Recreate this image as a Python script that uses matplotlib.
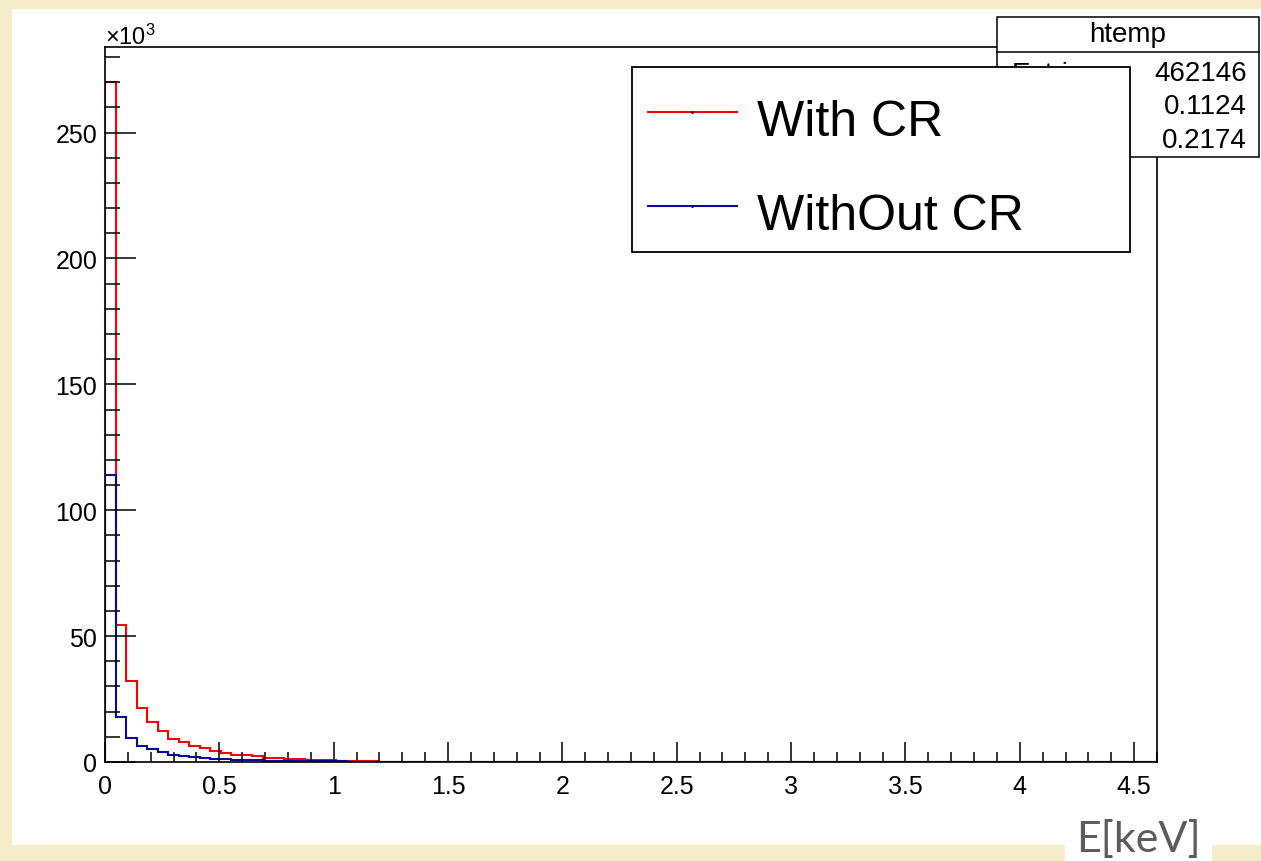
import numpy as np
import matplotlib
matplotlib.use('Agg')
import matplotlib.pyplot as plt
from matplotlib.patches import Rectangle
from matplotlib.lines import Line2D
from matplotlib.ticker import MultipleLocator, FormatStrFormatter

plt.rcParams['font.family'] = ['Liberation Sans', 'DejaVu Sans']
plt.rcParams['mathtext.fontset'] = 'custom'
plt.rcParams['mathtext.rm'] = 'Liberation Sans'
plt.rcParams['mathtext.it'] = 'Liberation Sans'

# histogram: 100 bins from 0 to 4.6 keV, counts in units of 10^3
n_bins = 100
e_max = 4.6
with_cr = [270, 54.5, 32, 21.5, 15.8, 12.2, 9.3, 7.8, 6.5, 5.5,
           4.2, 3.6, 2.9, 2.6, 2.4, 1.7, 1.5, 1.3, 1.1, 0.9,
           0.8, 0.6, 0.55, 0.5, 0.45, 0.4]
without_cr = [114, 17.8, 9.7, 6.5, 5.2, 3.8, 2.9, 2.5, 1.9, 1.6,
              1.3, 1.1, 0.9, 0.7, 0.6, 0.5, 0.45, 0.4, 0.35, 0.3,
              0.25, 0.2, 0.2, 0.15, 0.15, 0.1]
series_labels = ['With CR', 'WithOut CR']
stats_title = 'htemp'
stats_names = ['Entries', 'Mean', 'Std Dev']
stats_values = ['462146', '0.1124', '0.2174']

W, H = 1261, 862
fig = plt.figure(figsize=(W / 100, H / 100), dpi=100, facecolor='#f6ecca')

def fx(x):
    return x / W

def fy(y):
    return 1 - y / H

# white canvas + white patch under the axis title
fig.add_artist(Rectangle((fx(12), fy(846)), fx(W - 12), (846 - 10) / H,
                         transform=fig.transFigure, facecolor='white',
                         edgecolor='none', zorder=-2))
fig.add_artist(Rectangle((fx(1065), fy(862)), fx(147), 52 / H,
                         transform=fig.transFigure, facecolor='white',
                         edgecolor='none', zorder=-2))

ax = fig.add_axes([fx(105), fy(763), fx(1157 - 105), (763 - 48) / H])
ax.set_facecolor('white')

edges = np.linspace(0, e_max, n_bins + 1)
red = np.zeros(n_bins)
red[:len(with_cr)] = with_cr
blue = np.zeros(n_bins)
blue[:len(without_cr)] = without_cr
ax.stairs(red, edges, color='#ff0000', linewidth=1.5)
ax.stairs(blue, edges, color='#0a0a9e', linewidth=1.5)

ax.set_xlim(0, e_max)
ax.set_ylim(0, 284)
ax.xaxis.set_major_locator(MultipleLocator(0.5))
ax.xaxis.set_minor_locator(MultipleLocator(0.1))
ax.yaxis.set_major_locator(MultipleLocator(50))
ax.yaxis.set_minor_locator(MultipleLocator(10))
ax.xaxis.set_major_formatter(FormatStrFormatter('%g'))
ax.yaxis.set_major_formatter(FormatStrFormatter('%g'))
ax.tick_params(axis='both', which='both', direction='in', width=1.1,
               top=False, right=False, labelsize=18)
ax.tick_params(axis='y', which='major', length=22, pad=5.5)
ax.tick_params(axis='y', which='minor', length=11)
ax.tick_params(axis='x', which='major', length=14.4, pad=8.5)
ax.tick_params(axis='x', which='minor', length=7.2)
for s in ax.spines.values():
    s.set_linewidth(1.2)

fig.text(fx(105), fy(45), r'$\times10^{3}$', fontsize=17, ha='left', va='baseline')

# overlay in pixel coordinates for stats box, legend and axis title
ov = fig.add_axes([0, 0, 1, 1], zorder=5)
ov.set_xlim(0, W)
ov.set_ylim(H, 0)
ov.axis('off')
ov.patch.set_alpha(0)

# stats box
ov.add_patch(Rectangle((997, 18), 262, 140, facecolor='white', edgecolor='black', linewidth=1.1))
ov.plot([997, 1259], [52.5, 52.5], color='black', linewidth=1.1)
ov.text(1128, 35, stats_title, fontsize=20, ha='center', va='center')
for i, (nm, val) in enumerate(zip(stats_names, stats_values)):
    yy = 74 + i * 33.5
    ov.text(1012, yy + 1, nm, fontsize=20, ha='left', va='center')
    ov.text(1247, yy, val, fontsize=20, ha='right', va='center')

# legend box
ov.add_patch(Rectangle((631.5, 68), 498, 185, facecolor='white', edgecolor='black',
                       linewidth=1.3, zorder=3))
for i, (lab, col) in enumerate(zip(series_labels, ['#ff0000', '#0a0a9e'])):
    yy = 112.7 + i * 94
    ov.add_line(Line2D([648, 737], [yy, yy], color=col, linewidth=1.5, zorder=4))
    ov.plot([692], [yy], marker='.', markersize=2, color='black', zorder=5)
    ov.text(757, yy + 23.5, lab, fontsize=36, ha='left', va='baseline', zorder=5)

# axis title
ov.text(1138, 852, 'E[keV]', fontsize=31, family=['Lato', 'DejaVu Sans'],
        color='#5c5c5c', ha='center', va='baseline')

fig.savefig('out.png', dpi=100, facecolor=fig.get_facecolor())
